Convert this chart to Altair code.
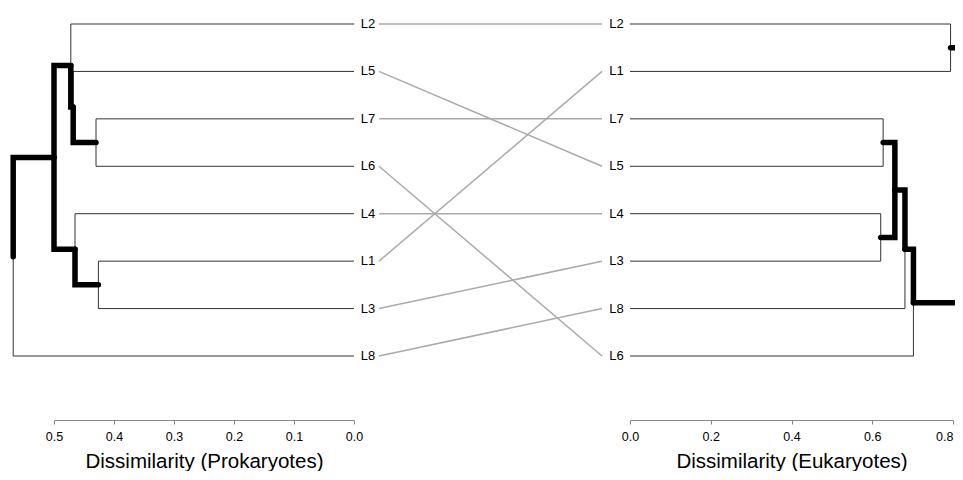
import altair as alt
import pandas as pd

# ---- data ----
left_order = ["L2", "L5", "L7", "L6", "L4", "L1", "L3", "L8"]
right_order = ["L2", "L1", "L7", "L5", "L4", "L3", "L8", "L6"]

# merges: (child a, child b, height); "mK" = K-th merge (1-based)
left_merges = [
    ("L7", "L6", 0.430),
    ("L1", "L3", 0.426),
    ("L4", "m2", 0.465),
    ("L5", "m1", 0.468),
    ("L2", "m4", 0.472),
    ("m5", "m3", 0.500),
    ("m6", "L8", 0.568),
]
right_merges = [
    ("L2", "L1", 0.794),
    ("L7", "L5", 0.627),
    ("L4", "L3", 0.621),
    ("m2", "m3", 0.656),
    ("m4", "L8", 0.681),
    ("m5", "L6", 0.702),
    ("m1", "m6", 0.870),
]

left_ticks = [0.5, 0.4, 0.3, 0.2, 0.1, 0.0]
right_ticks = [0.0, 0.2, 0.4, 0.6, 0.8]
left_title = "Dissimilarity (Prokaryotes)"
right_title = "Dissimilarity (Eukaryotes)"

FONT = "Liberation Sans"


def tree_edges(order, merges):
    pos = {leaf: i + 1 for i, leaf in enumerate(order)}
    hgt = {leaf: 0.0 for leaf in order}
    rows = []
    for k, (a, b, ht) in enumerate(merges, 1):
        name = f"m{k}"
        pos[name] = (pos[a] + pos[b]) / 2
        hgt[name] = ht
        for c in (a, b):
            eid = f"{name}-{c}"
            kind = "thick" if c.startswith("m") else "thin"
            rows.append(dict(edge=eid, kind=kind, o=0, h=ht, y=pos[name]))
            rows.append(dict(edge=eid, kind=kind, o=1, h=ht, y=pos[c]))
            rows.append(dict(edge=eid, kind=kind, o=2, h=hgt[c], y=pos[c]))
    return pd.DataFrame(rows)


ldf = tree_edges(left_order, left_merges)
rdf = tree_edges(right_order, right_merges)

left_scale = alt.Scale(domain=[0.5, 0.0], range=[46, 346])
right_scale = alt.Scale(domain=[0.0, 0.8], range=[622, 945])
conn_scale = alt.Scale(domain=[0, 1], range=[371, 594])
y_scale = alt.Scale(domain=[1, 8], range=[16, 348])


def axis(values, title):
    return alt.Axis(
        values=values, format=".1f", title=title, orient="bottom", grid=False,
        domainColor="#888888", tickColor="#888888", tickSize=4, domainWidth=1.2,
        labelFont=FONT, labelFontSize=12.5, labelColor="black", labelPadding=6,
        labelAlign={"condition": {"test": "datum.value > 0.75", "value": "right"}, "value": "center"},
        titleFont=FONT, titleFontSize=20.5, titleFontWeight="normal",
        titleColor="black", titleBaseline="alphabetic", titleY=47,
        labelFlush=False,
    )


def tree_layers(df, scale, ax):
    thin = alt.Chart(df[df.kind == "thin"]).mark_line(
        color="#333333", strokeWidth=1, clip=True
    ).encode(
        x=alt.X("h:Q", scale=scale, axis=ax),
        y=alt.Y("y:Q", scale=y_scale, axis=None),
        detail="edge:N",
        order="o:Q",
    )
    thick = alt.Chart(df[df.kind == "thick"]).mark_line(
        color="black", strokeWidth=5.5, strokeCap="round", strokeJoin="miter", clip=True
    ).encode(
        x=alt.X("h:Q", scale=scale, axis=None),
        y=alt.Y("y:Q", scale=y_scale, axis=None),
        detail="edge:N",
        order="o:Q",
    )
    return [thin, thick]


llab = pd.DataFrame({"label": left_order, "y": range(1, 9), "lx": -0.0233})
rlab = pd.DataFrame({"label": right_order, "y": range(1, 9), "lx": -0.0334})

left_text = alt.Chart(llab).mark_text(font=FONT, fontSize=13, color="black").encode(
    x=alt.X("lx:Q", scale=left_scale, axis=None),
    y=alt.Y("y:Q", scale=y_scale, axis=None),
    text="label:N",
)
right_text = alt.Chart(rlab).mark_text(font=FONT, fontSize=13, color="black").encode(
    x=alt.X("lx:Q", scale=right_scale, axis=None),
    y=alt.Y("y:Q", scale=y_scale, axis=None),
    text="label:N",
)

conn = pd.DataFrame({
    "label": left_order,
    "yl": [left_order.index(l) + 1 for l in left_order],
    "yr": [right_order.index(l) + 1 for l in left_order],
    "x0": 0, "x1": 1,
})
connectors = alt.Chart(conn).mark_rule(color="#aaaaaa", strokeWidth=1.5).encode(
    x=alt.X("x0:Q", scale=conn_scale, axis=None),
    x2="x1:Q",
    y=alt.Y("yl:Q", scale=y_scale, axis=None),
    y2="yr:Q",
)

layers = (
    tree_layers(ldf, left_scale, axis(left_ticks, left_title))
    + [left_text, connectors, right_text]
    + tree_layers(rdf, right_scale, axis(right_ticks, right_title))
)

chart = alt.layer(*layers).resolve_scale(x="independent").properties(
    width=947, height=412,
    autosize=alt.AutoSizeParams(type="none"),
    padding={"left": 0, "top": 0, "right": 0, "bottom": 51},
).configure_view(stroke=None)

chart.save("out.html", embed_options={"renderer": "svg", "actions": False})
